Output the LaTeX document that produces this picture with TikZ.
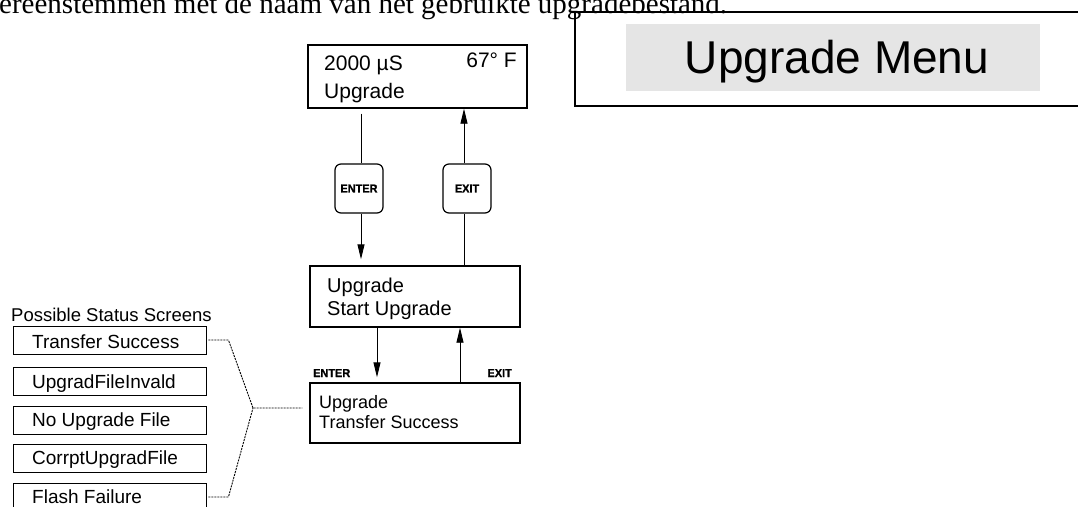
\documentclass[tikz,border=0pt]{standalone}
\usepackage{fontspec}
\setmainfont{Liberation Sans}
\newfontfamily\capserif{Liberation Serif}
\newfontfamily\keyfont[FakeBold=1.2,FakeStretch=0.95]{Liberation Sans Bold}
\usetikzlibrary{arrows.meta}
\newcommand\fsz[1]{\fontsize{#1}{#1}\selectfont}
\tikzset{
  screen/.style={draw, line width=1.4pt, inner sep=0pt},
  statusbox/.style={draw, line width=0.9pt, inner sep=0pt, minimum width=193pt, minimum height=28pt},
  keybtn/.style={draw, line width=1.2pt, rounded corners=6pt, inner sep=0pt, minimum width=48pt, minimum height=49pt, font=\keyfont\fsz{11.5}},
  txt/.style={anchor=base west, inner sep=0pt},
  conn/.style={line width=0.9pt},
  tipconn/.style={line width=0.9pt, -{Triangle[length=15pt,width=7pt]}},
  dotline/.style={line width=0.9pt, dash pattern=on 2pt off 1pt},
}
\begin{document}
\begin{tikzpicture}[x=1pt,y=-1pt]
\useasboundingbox (0,0) rectangle (1078,506);
\clip (0,0) rectangle (1078,506);
% caption fragment
\node[txt, font=\capserif\fsz{29}] (cap) at (-1,13.5) {ereenstemmen met de naam van het gebruikte upgradebestand.};
% title box
\draw[line width=1.8pt] (575,12) rectangle (1090,106);
\fill[black!10] (626,24) rectangle (1040,91);
\node[anchor=base, inner sep=0pt, font=\fsz{46}] (title) at (837,73) {Upgrade Menu};
% screens
\node[screen, minimum width=219pt, minimum height=63pt] (top) at (417.5,76.5) {};
\node[txt, font=\fsz{21}] (t1) at (324,70) {2000 µS};
\node[anchor=base east, inner sep=0pt, font=\fsz{21}] (t2) at (517,67) {67° F};
\node[txt, font=\fsz{21}] (t3) at (324,98.5) {Upgrade};
\node[keybtn] (enterbtn) at (359,188.5) {ENTER};
\node[keybtn] (exitbtn) at (467,188.5) {EXIT};
\node[screen, minimum width=210pt, minimum height=61pt] (mid) at (415,296.5) {};
\node[txt, font=\fsz{20}] (m1) at (327,292) {Upgrade};
\node[txt, font=\fsz{20}] (m2) at (327,315) {Start Upgrade};
\node[screen, minimum width=210pt, minimum height=60pt] (bot) at (415,413) {};
\node[txt, font=\fsz{18}] (b1) at (319,408) {Upgrade};
\node[txt, font=\fsz{18}] (b2) at (319,428) {Transfer Success};
\node[txt, font=\keyfont\fsz{11.5}] (lenter) at (313,377) {ENTER};
\node[anchor=base east, inner sep=0pt, font=\keyfont\fsz{11.5}] (lexit) at (512,377) {EXIT};
% connectors
\coordinate (a1) at (361,0);
\coordinate (e1) at (464,0);
\coordinate (d1) at (377,0);
\coordinate (u1) at (460,0);
\draw[conn, shorten <=5pt] (a1 |- top.south) -- (a1 |- enterbtn.north);
\draw[tipconn, shorten >=6pt] (a1 |- enterbtn.south) -- (a1 |- mid.north);
\draw[conn] (e1 |- mid.north) -- (e1 |- exitbtn.south);
\draw[tipconn] (e1 |- exitbtn.north) -- (e1 |- top.south);
\draw[tipconn, shorten >=5pt] (d1 |- mid.south) -- (d1 |- bot.north);
\draw[tipconn] (u1 |- bot.north) -- (u1 |- mid.south);
% status screens
\node[txt, font=\fsz{18.5}] (pss) at (11,321.5) {Possible Status Screens};
\node[statusbox] (s1) at (109.5,340) {};
\node[statusbox] (s2) at (109.5,381) {};
\node[statusbox] (s3) at (109.5,420) {};
\node[statusbox] (s4) at (109.5,458.5) {};
\node[statusbox] (s5) at (109.5,497) {};
\node[txt, font=\fsz{19}] (st1) at (32,348) {Transfer Success};
\node[txt, font=\fsz{19}] (st2) at (32,388) {UpgradFileInvald};
\node[txt, font=\fsz{19}] (st3) at (32,426) {No Upgrade File};
\node[txt, font=\fsz{19}] (st4) at (32,464) {CorrptUpgradFile};
\node[txt, font=\fsz{19}] (st5) at (32,503.5) {Flash Failure};
\coordinate (jn) at (253,408);
\draw[dotline] ([xshift=2pt]s1.east) -- ++(20,0) -- (jn) -- ([xshift=-7pt]jn -| bot.west);
\draw[dotline] ([xshift=2pt]s5.east) -- ++(20,0) -- (jn);
\end{tikzpicture}
\end{document}
